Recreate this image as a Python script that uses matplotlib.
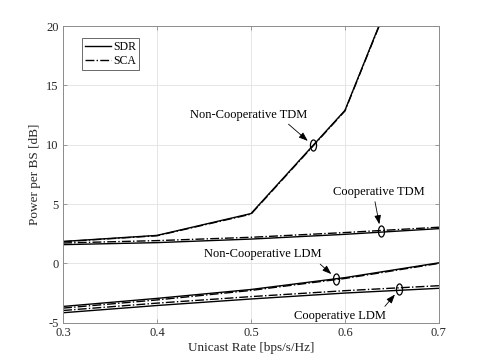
import numpy as np
import matplotlib
matplotlib.use("Agg")
import matplotlib.pyplot as plt
from matplotlib.path import Path

rate = [0.3, 0.4, 0.5, 0.6, 0.7]

noncoop_tdm_sdr = [1.85, 2.36, 4.2, 12.9, 32.6]
noncoop_tdm_sca = [1.83, 2.33, 4.15, 12.85, 32.5]
coop_tdm_sdr = [1.58, 1.75, 2.05, 2.45, 2.93]
coop_tdm_sca = [1.72, 1.92, 2.2, 2.6, 3.05]
noncoop_ldm_sdr = [-3.63, -2.95, -2.2, -1.2, 0.05]
noncoop_ldm_sca = [-3.77, -3.08, -2.28, -1.27, 0.0]
coop_ldm_sdr = [-4.16, -3.55, -3.0, -2.5, -2.1]
coop_ldm_sca = [-3.97, -3.35, -2.8, -2.3, -1.88]

xticks = [0.3, 0.4, 0.5, 0.6, 0.7]
yticks = [-5, 0, 5, 10, 15, 20]

plt.rcParams['font.family'] = ['Liberation Serif', 'DejaVu Serif']

fig = plt.figure(figsize=(4.85, 3.63), dpi=100)
ax = fig.add_axes([0.13, 0.111, 0.775, 0.817])

lw = 1.0
ax.plot(rate, noncoop_tdm_sca, color='black', lw=lw, ls='-.')
ax.plot(rate, noncoop_tdm_sdr, color='black', lw=lw, ls='-')
ax.plot(rate, coop_tdm_sdr, color='black', lw=lw, ls='-')
ax.plot(rate, coop_tdm_sca, color='black', lw=lw, ls='-.')
ax.plot(rate, noncoop_ldm_sca, color='black', lw=lw, ls='-.')
ax.plot(rate, noncoop_ldm_sdr, color='black', lw=lw, ls='-')
ax.plot(rate, coop_ldm_sdr, color='black', lw=lw, ls='-')
ax.plot(rate, coop_ldm_sca, color='black', lw=lw, ls='-.')

# legend proxies
h1, = ax.plot([], [], color='black', lw=lw, ls='-', label='SDR')
h2, = ax.plot([], [], color='black', lw=lw, ls='-.', label='SCA')
leg = ax.legend(handles=[h1, h2], loc='upper left', bbox_to_anchor=(0.05, 0.96),
                fontsize=8.5, frameon=True, fancybox=False, edgecolor='#262626',
                handlelength=2.2, handletextpad=0.2, borderpad=0.25, labelspacing=0.15,
                borderaxespad=0.0)
leg.get_frame().set_linewidth(0.6)

# ellipse marker
circ = Path.unit_circle()
ell = Path(circ.vertices * np.array([0.55, 1.0]), circ.codes)

ann = [
    ("Non-Cooperative TDM", 0.566, noncoop_tdm_sdr, (0.498, 12.55), (0.8, 0.0)),
    ("Cooperative TDM", 0.638, coop_tdm_sdr, (0.636, 6.05), (0.45, 0.0)),
    ("Non-Cooperative LDM", 0.591, noncoop_ldm_sdr, (0.513, 0.75), (0.95, 0.0)),
    ("Cooperative LDM", 0.658, coop_ldm_sdr, (0.595, -4.45), (0.95, 1.0)),
]
for label, xm, series, txy, rp in ann:
    ym = float(np.interp(xm, rate, series))
    if label == "Cooperative TDM":
        ym = float(np.interp(xm, rate, coop_tdm_sca)) - 0.05
    if label == "Cooperative LDM":
        ym = float(np.interp(xm, rate, coop_ldm_sca)) - 0.12
    ax.plot([xm], [ym], marker=ell, markersize=8, mfc='none', mec='black', mew=0.9)
    ax.annotate(label, xy=(xm, ym), xytext=txy, textcoords='data',
                ha='center', va='center', fontsize=9,
                arrowprops=dict(arrowstyle='-|>,head_length=0.6,head_width=0.22',
                                color='black', lw=0.6, shrinkA=1, shrinkB=5,
                                relpos=rp))

ax.set_xlim(0.3, 0.7)
ax.set_ylim(-5, 20)
ax.set_xticks(xticks)
ax.set_yticks(yticks)
ax.set_xticklabels([f"{v:g}" for v in xticks])
ax.set_yticklabels([f"{v:g}" for v in yticks])
ax.grid(True, color='#e6e6e6', lw=0.7)
ax.set_axisbelow(True)
for s in ax.spines.values():
    s.set_color('#8c8c8c')
    s.set_linewidth(0.7)
ax.tick_params(direction='in', length=3, width=0.6, color='#8c8c8c',
               labelsize=9, labelcolor='#262626', top=True, right=True, pad=3)
ax.set_xlabel('Unicast Rate [bps/s/Hz]', fontsize=9.5, color='#262626', labelpad=2)
ax.set_ylabel('Power per BS [dB]', fontsize=9.5, color='#262626', labelpad=4)

fig.savefig('out.png', dpi=100)
